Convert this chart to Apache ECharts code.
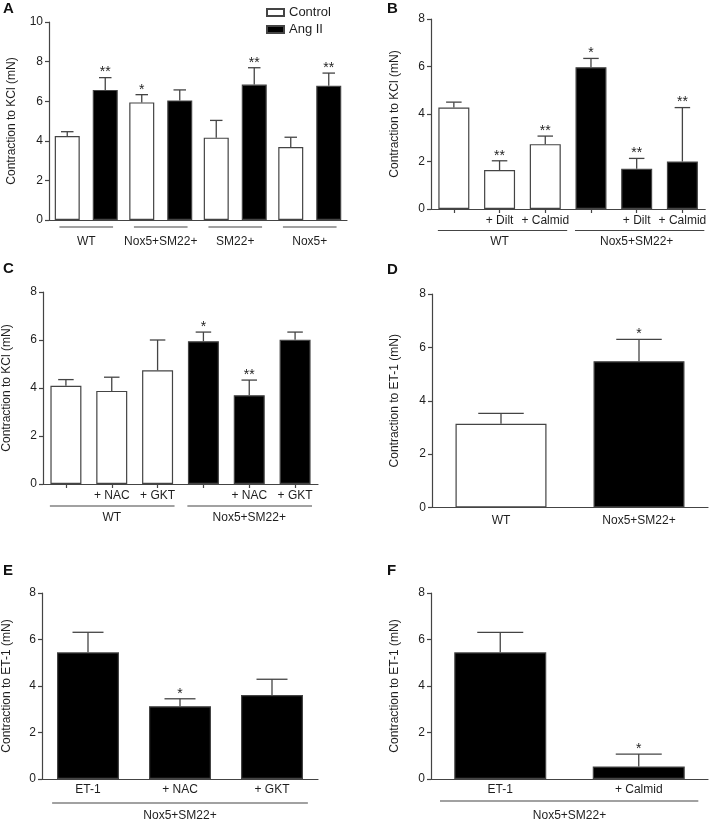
<!DOCTYPE html>
<html><head><meta charset="utf-8">
<script src="https://cdn.jsdelivr.net/npm/echarts@6/dist/echarts.min.js"></script>
<style>html,body{margin:0;padding:0;background:#fff}#c{width:709px;height:823px}</style>
</head><body><div id="c"></div>
<script>
// ---------- DATA ----------
// Panel A
const aCategories = ['WT', 'Nox5+SM22+', 'SM22+', 'Nox5+'];
const aControl    = [4.24, 5.94, 4.16, 3.69];
const aControlSem = [0.22, 0.39, 0.87, 0.49];
const aControlSig = ['', '*', '', ''];
const aAngII      = [6.57, 6.04, 6.84, 6.78];
const aAngIISem   = [0.62, 0.53, 0.85, 0.64];
const aAngIISig   = ['**', '', '**', '**'];
// Panel B
const bCategories = ['', '+ Dilt', '+ Calmid', '', '+ Dilt', '+ Calmid'];
const bGroups     = ['WT', 'WT', 'WT', 'Nox5+SM22+', 'Nox5+SM22+', 'Nox5+SM22+'];
const bValues     = [4.27, 1.64, 2.73, 5.97, 1.69, 2.00];
const bSem        = [0.23, 0.39, 0.34, 0.37, 0.44, 2.27];
const bSig        = ['', '**', '**', '*', '**', '**'];
// Panel C
const cCategories = ['', '+ NAC', '+ GKT', '', '+ NAC', '+ GKT'];
const cGroups     = ['WT', 'WT', 'WT', 'Nox5+SM22+', 'Nox5+SM22+', 'Nox5+SM22+'];
const cValues     = [4.09, 3.88, 4.74, 5.95, 3.70, 6.01];
const cSem        = [0.26, 0.57, 1.26, 0.38, 0.63, 0.32];
const cSig        = ['', '', '', '*', '**', ''];
// Panel D
const dCategories = ['WT', 'Nox5+SM22+'];
const dGroups     = ['WT', 'Nox5+SM22+'];
const dValues     = [3.14, 5.48];
const dSem        = [0.39, 0.82];
const dSig        = ['', '*'];
// Panel E
const eCategories = ['ET-1', '+ NAC', '+ GKT'];
const eGroups     = ['Nox5+SM22+', 'Nox5+SM22+', 'Nox5+SM22+'];
const eValues     = [5.45, 3.13, 3.61];
const eSem        = [0.86, 0.32, 0.68];
const eSig        = ['', '*', ''];
// Panel F
const fCategories = ['ET-1', '+ Calmid'];
const fGroups     = ['Nox5+SM22+', 'Nox5+SM22+'];
const fValues     = [5.45, 0.54];
const fSem        = [0.86, 0.53];
const fSig        = ['', '*'];
// Axis ticks
const yTicksKCl10 = [0, 2, 4, 6, 8, 10];
const yTicks8     = [0, 2, 4, 6, 8];
const yNameKCl = 'Contraction to KCl (mN)';
const yNameET1 = 'Contraction to ET-1 (mN)';

// ---------- STYLE ----------
const FONT = '"Liberation Sans", Arial, Helvetica, sans-serif';
const AXIS = '#444444';
const TEXT = '#1e1e1e';
const FILL = {'WT': '#ffffff', 'Nox5+SM22+': '#000000', 'Control': '#ffffff', 'Ang II': '#000000'};

function runs(groups) {
  const out = [];
  groups.forEach((g, i) => {
    if (out.length && out[out.length - 1].name === g) out[out.length - 1].last = i;
    else out.push({name: g, first: i, last: i});
  });
  return out;
}

const grids = [], xAxes = [], yAxes = [], series = [], titles = [];

function addAxes(k, grid, cats, ticks, max, yName, nameGap, labelMargin, showLabels, tickArr) {
  grids.push(Object.assign({containLabel: false}, grid));
  xAxes.push({
    gridIndex: k, type: 'category',
    data: cats.map((c, i) => i + '|' + c),
    axisLine: {show: true, lineStyle: {color: AXIS, width: 1.2}},
    axisTick: {show: ticks, alignWithLabel: true, length: 4, lineStyle: {color: AXIS, width: 1.2}},
    axisLabel: {show: showLabels, interval: 0, margin: labelMargin, fontSize: 12, fontFamily: FONT, color: TEXT,
      formatter: v => v.split('|').slice(1).join('|')},
    splitLine: {show: false}
  });
  yAxes.push({
    gridIndex: k, type: 'value', min: tickArr[0], max: tickArr[tickArr.length - 1],
    interval: tickArr[1] - tickArr[0],
    name: yName, nameLocation: 'middle', nameGap: nameGap, nameRotate: 90,
    nameTextStyle: {fontSize: 12, fontFamily: FONT, color: TEXT},
    axisLine: {show: true, lineStyle: {color: AXIS, width: 1.2}},
    axisTick: {show: true, length: 4, lineStyle: {color: AXIS, width: 1.2}},
    axisLabel: {margin: 6, fontSize: 12, fontFamily: FONT, color: TEXT},
    splitLine: {show: false}
  });
}

function errSeries(k, values, sem, sig, barWidth, offset) {
  return {
    type: 'custom', xAxisIndex: k, yAxisIndex: k, z: 5, silent: true,
    data: values.map((v, i) => [i, v]),
    renderItem: function (params, api) {
      const i = params.dataIndex;
      const v = api.value(1);
      const p0 = api.coord([api.value(0), v]);
      const p1 = api.coord([api.value(0), v + sem[i]]);
      const cx = p0[0] + offset;
      const half = barWidth * 0.25;
      const children = [
        {type: 'line', shape: {x1: cx, y1: p0[1], x2: cx, y2: p1[1]}, style: {stroke: AXIS, lineWidth: 1.3}},
        {type: 'line', shape: {x1: cx - half, y1: p1[1], x2: cx + half, y2: p1[1]}, style: {stroke: AXIS, lineWidth: 1.3}}
      ];
      if (sig[i]) children.push({type: 'text', style: {text: sig[i], x: cx, y: p1[1] + 2, align: 'center', verticalAlign: 'bottom',
        font: '14px ' + FONT, fill: TEXT}});
      return {type: 'group', children: children};
    }
  };
}

function groupSeries(k, groupRuns, padL, padR, lineOff, textOff) {
  return {
    type: 'custom', xAxisIndex: k, yAxisIndex: k, z: 5, silent: true, clip: false,
    data: groupRuns.map(g => [g.first, 0, g.last]),
    renderItem: function (params, api) {
      const g = groupRuns[params.dataIndex];
      const band = api.size([1, 0])[0];
      const p1 = api.coord([api.value(0), 0]);
      const p2 = api.coord([api.value(2), 0]);
      const y = p1[1];
      return {type: 'group', children: [
        {type: 'line', shape: {x1: p1[0] - padL * band, y1: y + lineOff, x2: p2[0] + padR * band, y2: y + lineOff},
          style: {stroke: AXIS, lineWidth: 1.2}},
        {type: 'text', style: {text: g.name, x: (p1[0] + p2[0]) / 2, y: y + textOff, align: 'center', verticalAlign: 'middle',
          font: '12px ' + FONT, fill: TEXT}}
      ]};
    }
  };
}

// ----- Panel A -----
addAxes(0, {left: 49, top: 22, width: 298, height: 198}, aCategories, false, 10, yNameKCl, 31, 16, false, yTicksKCl10);
series.push({
  type: 'bar', name: 'Control', xAxisIndex: 0, yAxisIndex: 0, data: aControl, barWidth: 25, barGap: '52%',
  itemStyle: {color: FILL['Control'], borderColor: AXIS, borderWidth: 1.2}
});
series.push({
  type: 'bar', name: 'Ang II', xAxisIndex: 0, yAxisIndex: 0, data: aAngII, barWidth: 25, barGap: '52%',
  itemStyle: {color: FILL['Ang II'], borderColor: AXIS, borderWidth: 1.2}
});
series.push(errSeries(0, aControl, aControlSem, aControlSig, 25, -19));
series.push(errSeries(0, aAngII, aAngIISem, aAngIISig, 25, 19));
series.push(groupSeries(0, runs(aCategories), 0.36, 0.36, 7, 22));

// ----- Panels B-F -----
const panels = [
  {cats: bCategories, groups: bGroups, values: bValues, sem: bSem, sig: bSig, yName: yNameKCl, nameGap: 30,
   grid: {left: 431, top: 19, width: 277, height: 190}, barWidth: 31, ticks: true, labelMargin: 6, underline: [0.35, 0.48, 21.5, 33]},
  {cats: cCategories, groups: cGroups, values: cValues, sem: cSem, sig: cSig, yName: yNameKCl, nameGap: 30,
   grid: {left: 41, top: 292, width: 277, height: 192}, barWidth: 31, ticks: true, labelMargin: 6, underline: [0.35, 0.37, 22, 34]},
  {cats: dCategories, groups: dGroups, values: dValues, sem: dSem, sig: dSig, yName: yNameET1, nameGap: 31,
   grid: {left: 432, top: 294, width: 276, height: 213.5}, barWidth: 91, ticks: false, labelMargin: 7, underline: null},
  {cats: eCategories, groups: eGroups, values: eValues, sem: eSem, sig: eSig, yName: yNameET1, nameGap: 29,
   grid: {left: 40, top: 593, width: 278, height: 186}, barWidth: 62, ticks: false, labelMargin: 5, underline: [0.39, 0.39, 24, 37]},
  {cats: fCategories, groups: fGroups, values: fValues, sem: fSem, sig: fSig, yName: yNameET1, nameGap: 30,
   grid: {left: 431, top: 593, width: 277, height: 186}, barWidth: 92, ticks: false, labelMargin: 5, underline: [0.435, 0.43, 22, 37]}
];
panels.forEach((p, j) => {
  const k = j + 1;
  addAxes(k, p.grid, p.cats, p.ticks, 8, p.yName, p.nameGap, p.labelMargin, true, yTicks8);
  series.push({
    type: 'bar', xAxisIndex: k, yAxisIndex: k, barWidth: p.barWidth,
    data: p.values.map((v, i) => ({value: v, itemStyle: {color: FILL[p.groups[i]]}})),
    itemStyle: {borderColor: AXIS, borderWidth: 1.2}
  });
  series.push(errSeries(k, p.values, p.sem, p.sig, p.barWidth, 0));
  if (p.underline) series.push(groupSeries(k, runs(p.groups), p.underline[0], p.underline[1], p.underline[2], p.underline[3]));
});

// Panel letters
[['A', 3, 1], ['B', 387, 1], ['C', 3, 261], ['D', 387, 262], ['E', 3, 563], ['F', 387, 563]].forEach(t => {
  titles.push({text: t[0], left: t[1], top: t[2], padding: 0,
    textStyle: {fontSize: 15, fontWeight: 'bold', fontFamily: FONT, color: '#111'}});
});

const chart = echarts.init(document.getElementById('c'), null, {renderer: 'canvas'});
chart.setOption({
  animation: false,
  backgroundColor: '#fff',
  title: titles,
  legend: {
    data: ['Control', 'Ang II'], orient: 'vertical', left: 266, top: 6, itemWidth: 17, itemHeight: 7, itemGap: 4,
    icon: 'rect', textStyle: {fontSize: 13, fontFamily: FONT, color: TEXT}, padding: 0
  },
  grid: grids, xAxis: xAxes, yAxis: yAxes, series: series
});
</script></body></html>
